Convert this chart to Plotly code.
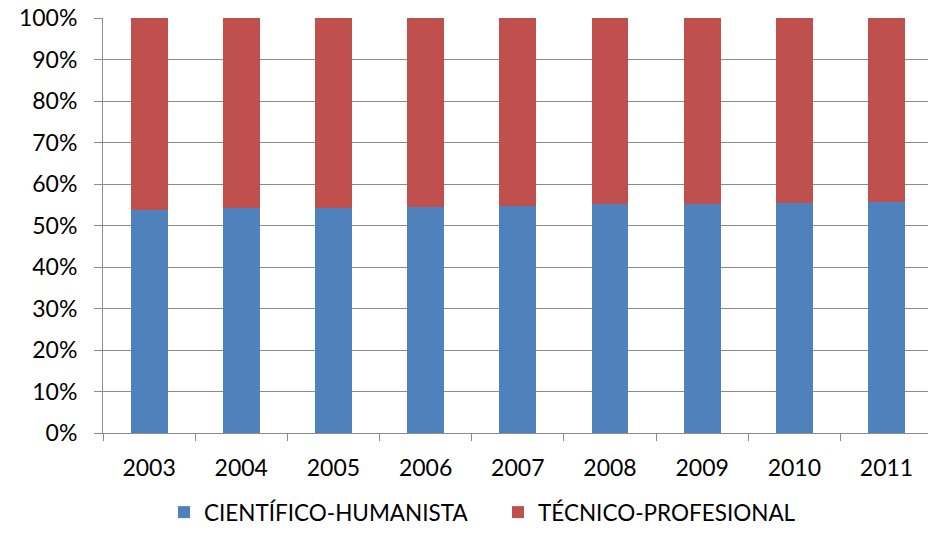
import plotly.graph_objects as go

years = ["2003", "2004", "2005", "2006", "2007", "2008", "2009", "2010", "2011"]
cientifico = [53.7, 54.2, 54.2, 54.5, 54.7, 55.2, 55.2, 55.4, 55.7]
tecnico = [100 - v for v in cientifico]
y_ticks = [0, 10, 20, 30, 40, 50, 60, 70, 80, 90, 100]
y_labels = [f"{t}%" for t in y_ticks]

font_family = "Lato, 'Open Sans', sans-serif"

fig = go.Figure()
fig.add_trace(go.Bar(x=years, y=cientifico, name="CIENTÍFICO-HUMANISTA",
                     marker=dict(color="#4F81BD", line=dict(width=0))))
fig.add_trace(go.Bar(x=years, y=tecnico, name="TÉCNICO-PROFESIONAL",
                     marker=dict(color="#C0504D", line=dict(width=0))))

fig.update_layout(
    width=928, height=534,
    barmode="stack", bargap=0.6,
    margin=dict(l=103, r=0, t=18, b=101, autoexpand=False),
    paper_bgcolor="white", plot_bgcolor="white",
    font=dict(family=font_family, size=23, color="black"),
    showlegend=True,
    legend=dict(orientation="h", xref="container", x=0.1767, xanchor="left",
                yref="container", y=0, yanchor="bottom",
                font=dict(size=22.5), traceorder="normal", itemwidth=30,
                entrywidth=289, entrywidthmode="pixels"),
    xaxis=dict(range=[-0.5, 8.45], showgrid=False, showline=True, linecolor="#8c8c8c",
               linewidth=1, ticks="outside", tickson="boundaries", ticklen=7,
               tickcolor="#8c8c8c", tickfont=dict(size=23), ticklabelstandoff=14),
    yaxis=dict(range=[0, 100], tickvals=y_ticks, ticktext=y_labels, showgrid=True,
               gridcolor="#8c8c8c", gridwidth=1, showline=True, linecolor="#8c8c8c",
               linewidth=1, ticks="outside", ticklen=8, tickcolor="#8c8c8c",
               tickfont=dict(size=23), zeroline=False, ticklabelstandoff=12,
               ticklabeloverflow="allow"),
)

fig.write_html("out.html", config={"displayModeBar": False},
               post_script="document.body.style.margin='0';")
